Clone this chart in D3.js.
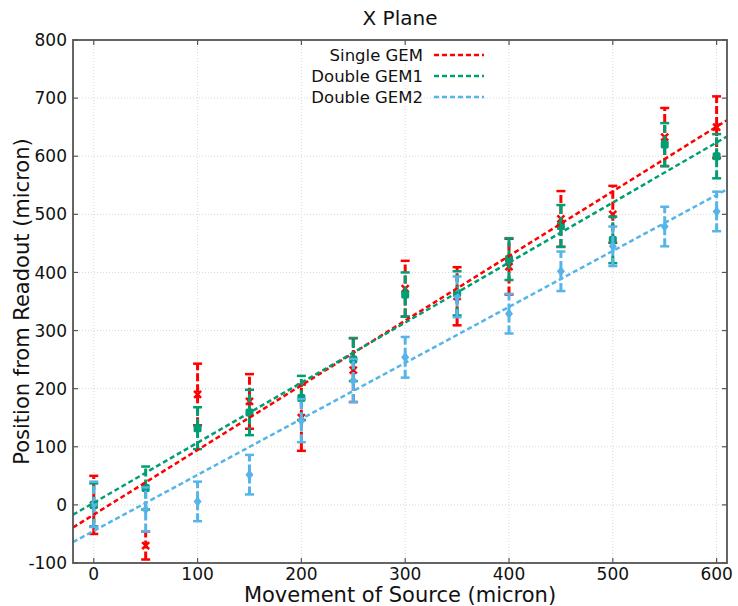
<!DOCTYPE html>
<html lang="en">
<head>
<meta charset="UTF-8">
<title>X Plane</title>
<style>
  body, html { margin: 0; padding: 0; background: #fff; overflow: hidden; }
  text { font-family: "DejaVu Sans", sans-serif; fill: #111; }
</style>
</head>
<body>
<script src="https://d3js.org/d3.v7.min.js"></script>
<script>
// source positions (micron)
var positions = [0, 50, 100, 150, 200, 250, 300, 350, 400, 450, 500, 550, 600];

// measured readout position and error, per detector
var singleGem = [0, -70, 190, 178, 150, 232, 372, 359, 410, 492, 500, 633, 650];
var singleGemErr = [50, 24, 53, 47, 57, 55, 48, 50, 48, 48, 49, 50, 53];
var doubleGem1 = [0, 29, 132, 159, 184, 250, 362, 364, 423, 480, 456, 620, 600];
var doubleGem1Err = [37, 37, 36, 39, 38, 37, 38, 38, 36, 36, 40, 37, 38];
var doubleGem2 = [1, -8, 6, 52, 145, 214, 254, 358, 329, 402, 445, 479, 505];
var doubleGem2Err = [39, 38, 34, 34, 37, 37, 35, 35, 34, 34, 34, 34, 34];

// fitted lines, read at both ends of the x range
var fitX = [-20, 610];
var singleGemFit = [-39, 662];
var doubleGem1Fit = [-17, 634];
var doubleGem2Fit = [-64, 543];

var xTicks = [0, 100, 200, 300, 400, 500, 600];
var yTicks = [-100, 0, 100, 200, 300, 400, 500, 600, 700, 800];

var series = [
  { name: "Single GEM", values: singleGem, err: singleGemErr, fit: singleGemFit, color: "#ff0000", marker: "x" },
  { name: "Double GEM1", values: doubleGem1, err: doubleGem1Err, fit: doubleGem1Fit, color: "#009e73", marker: "s" },
  { name: "Double GEM2", values: doubleGem2, err: doubleGem2Err, fit: doubleGem2Fit, color: "#56b4e9", marker: "d" }
];

var width = 738, height = 606;
var margin = { top: 40, right: 11, bottom: 43, left: 73 };
var w = width - margin.left - margin.right;
var h = height - margin.top - margin.bottom;

var svg = d3.select("body").append("svg")
  .attr("width", width)
  .attr("height", height);

var x = d3.scaleLinear().domain([-20, 610]).range([0, w]);
var y = d3.scaleLinear().domain([-100, 800]).range([h, 0]);

var g = svg.append("g").attr("transform", "translate(" + margin.left + "," + margin.top + ")");

// grid
g.append("g").selectAll("line").data(xTicks).enter().append("line")
  .attr("x1", d => x(d)).attr("x2", d => x(d)).attr("y1", 0).attr("y2", h)
  .attr("stroke", "#d8d8d8").attr("stroke-width", 1).attr("stroke-dasharray", "1,2");
g.append("g").selectAll("line").data(yTicks).enter().append("line")
  .attr("y1", d => y(d)).attr("y2", d => y(d)).attr("x1", 0).attr("x2", w)
  .attr("stroke", "#d8d8d8").attr("stroke-width", 1).attr("stroke-dasharray", "1,2");

var clip = svg.append("clipPath").attr("id", "plotclip");
clip.append("rect").attr("width", w).attr("height", h);
var plot = g.append("g").attr("clip-path", "url(#plotclip)");

// error bars and markers
series.forEach(function(s) {
  var sg = plot.append("g");
  positions.forEach(function(p, i) {
    var cx = x(p), lo = y(s.values[i] - s.err[i]), hi = y(s.values[i] + s.err[i]);
    sg.append("line").attr("x1", cx).attr("x2", cx).attr("y1", lo).attr("y2", hi)
      .attr("stroke", s.color).attr("stroke-width", 3).attr("stroke-dasharray", "8,3");
    [lo, hi].forEach(function(cy) {
      sg.append("line").attr("x1", cx - 4.5).attr("x2", cx + 4.5).attr("y1", cy).attr("y2", cy)
        .attr("stroke", s.color).attr("stroke-width", 2.5);
    });
    var my = y(s.values[i]);
    if (s.marker === "x") {
      sg.append("path").attr("d", "M" + (cx - 3.5) + "," + (my - 3.5) + "L" + (cx + 3.5) + "," + (my + 3.5) +
        "M" + (cx - 3.5) + "," + (my + 3.5) + "L" + (cx + 3.5) + "," + (my - 3.5))
        .attr("stroke", s.color).attr("stroke-width", 2.5);
    } else if (s.marker === "s") {
      sg.append("rect").attr("x", cx - 4).attr("y", my - 4).attr("width", 8).attr("height", 8)
        .attr("rx", 1.5).attr("fill", s.color);
    } else {
      sg.append("path").attr("d", "M" + cx + "," + (my - 5) + "L" + (cx + 4) + "," + my + "L" + cx + "," + (my + 5) + "L" + (cx - 4) + "," + my + "Z")
        .attr("fill", s.color);
    }
  });
});

// fit lines
var fitLine = d3.line().x(d => x(d[0])).y(d => y(d[1]));
series.forEach(function(s) {
  plot.append("path")
    .datum(fitX.map((fx, i) => [fx, s.fit[i]]))
    .attr("d", fitLine)
    .attr("fill", "none")
    .attr("stroke", s.color)
    .attr("stroke-width", 2.5)
    .attr("stroke-dasharray", "5,3");
});

// frame
g.append("rect").attr("width", w).attr("height", h)
  .attr("fill", "none").attr("stroke", "#555").attr("stroke-width", 1.8);

// inward ticks on all sides
var tl = 5;
xTicks.forEach(function(t) {
  g.append("line").attr("x1", x(t)).attr("x2", x(t)).attr("y1", h).attr("y2", h - tl).attr("stroke", "#555").attr("stroke-width", 1.2);
  g.append("line").attr("x1", x(t)).attr("x2", x(t)).attr("y1", 0).attr("y2", tl).attr("stroke", "#555").attr("stroke-width", 1.2);
  g.append("text").attr("x", x(t)).attr("y", h + 17).attr("text-anchor", "middle")
    .style("font-size", "17px").text(t);
});
yTicks.forEach(function(t) {
  g.append("line").attr("y1", y(t)).attr("y2", y(t)).attr("x1", 0).attr("x2", tl).attr("stroke", "#555").attr("stroke-width", 1.2);
  g.append("line").attr("y1", y(t)).attr("y2", y(t)).attr("x1", w).attr("x2", w - tl).attr("stroke", "#555").attr("stroke-width", 1.2);
  g.append("text").attr("x", -6).attr("y", y(t)).attr("dy", "0.36em").attr("text-anchor", "end")
    .style("font-size", "17px").text(t);
});

// title and labels
svg.append("text").attr("x", margin.left + w / 2).attr("y", 25).attr("text-anchor", "middle")
  .style("font-size", "20px").text("X Plane");
svg.append("text").attr("x", margin.left + w / 2).attr("y", 602).attr("text-anchor", "middle")
  .style("font-size", "21px").text("Movement of Source (micron)");
svg.append("text").attr("transform", "translate(29," + (margin.top + h / 2) + ") rotate(-90)")
  .attr("text-anchor", "middle").style("font-size", "21px").text("Position from Readout (micron)");

// legend
var leg = svg.append("g");
series.forEach(function(s, i) {
  var ly = 55 + i * 21;
  leg.append("text").attr("x", 423).attr("y", ly).attr("dy", "0.35em").attr("text-anchor", "end")
    .style("font-size", "16.5px").text(s.name);
  leg.append("line").attr("x1", 434).attr("x2", 484).attr("y1", ly).attr("y2", ly)
    .attr("stroke", s.color).attr("stroke-width", 2.5).attr("stroke-dasharray", "5,3");
});
</script>
</body>
</html>
